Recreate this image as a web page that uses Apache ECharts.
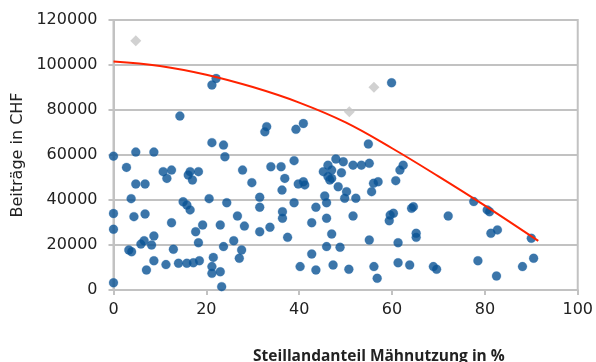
<!DOCTYPE html>
<html>
<head>
<meta charset="utf-8">
<script src="https://cdn.jsdelivr.net/npm/echarts@6/dist/echarts.min.js"></script>
<style>
  html, body { margin: 0; padding: 0; background: #fff; }
  #chart { width: 596px; height: 362px; }
</style>
</head>
<body>
<div id="chart"></div>
<script>
// Farm contributions (CHF) against share of steep mown land (%)
const farms = [
  [0, 59500], [0, 34000], [0, 27000], [0, 3200],
  [4.8, 61300], [8.7, 61300], [2.8, 54500], [10.7, 52600], [12.5, 53300], [11.5, 49600],
  [16.5, 52600], [18.3, 52600], [17, 48900], [16.1, 51100], [4.8, 47100], [6.8, 47100],
  [3.8, 40600], [15, 39200], [15.8, 37800], [16.5, 35600], [20.6, 40600], [4.4, 32600],
  [6.8, 33800], [12.5, 29900], [17.7, 25900], [19.2, 28900], [23, 28900], [8.7, 24000],
  [6.6, 21900], [5.9, 20400], [8.2, 20000], [3.3, 17800], [3.9, 17000], [12.9, 18100],
  [18.3, 21000], [23.7, 19300], [8.7, 13000], [7.1, 8900], [11.3, 11300], [14, 11900],
  [15.8, 11900], [17.2, 12100], [18.5, 13000], [21.5, 14500], [21.2, 10400], [21.2, 7400],
  [23, 8100], [23.3, 1500], [21.2, 65500], [23.7, 64400], [14.3, 77300], [24, 59200],
  [27.8, 53300], [29.8, 47700], [33.9, 54800], [24.4, 38800], [31.5, 41200], [31.5, 36800],
  [26.7, 32900], [28.2, 28400], [31.5, 25900], [33.7, 27900], [25.9, 21900], [27.6, 17800],
  [27.1, 14100], [21.2, 91100], [22.1, 94000],
  [33, 72600], [32.6, 70300], [40.9, 74000], [39.3, 71400],
  [36.1, 54800], [36.9, 49600], [36.3, 44400], [38.9, 57500], [39.8, 47100], [40.9, 48100],
  [41.2, 46700], [46.2, 55500], [47.9, 58200], [45.2, 52600], [46.2, 50400], [46.6, 48900],
  [48.4, 45900], [38.9, 38800], [36.4, 34800], [36.4, 31900], [43.6, 36800], [45.5, 41800],
  [45.9, 38800], [42.7, 29900], [45.9, 31900], [37.5, 23400], [47, 24900], [45.9, 19300],
  [42.7, 16000], [40.2, 10400], [43.6, 8900], [47.3, 11100],
  [49.5, 57000], [47, 53300], [47, 49600], [51.6, 55500], [53.4, 55500], [55.1, 56300],
  [62.4, 55500], [61.7, 53300], [49.1, 52100], [56, 47400], [57, 48100], [55.6, 43700],
  [60.8, 48600], [50.2, 43700], [49.8, 40800], [52.2, 40800], [51.6, 32900], [59.6, 33300],
  [60.3, 34100], [59.4, 30800], [64.2, 36300], [64.6, 37000], [72.1, 32900], [55.1, 22200],
  [61.3, 21000], [65.2, 25200], [65.2, 23400], [48.8, 19000], [50.7, 9200], [56.1, 10400],
  [56.8, 5200], [61.3, 12100], [63.8, 11100], [68.9, 10400], [69.6, 9200], [54.9, 64900],
  [77.6, 39300], [80.5, 35600], [81, 34800], [81.3, 25200], [82.7, 26700], [90, 23000],
  [90.5, 14100], [88.1, 10400], [78.5, 13000], [82.5, 6200], [59.9, 92100]
];

// Farms shown as outliers
const outliers = [[4.8, 110800], [50.8, 79200], [56.1, 90100]];

// Trend curve read at regular steps of the steep-land share
const trend = [
  [0, 101600], [10, 99600], [20, 95700], [30, 90200], [40, 83300],
  [50, 74500], [60, 63000], [70, 50500], [80, 37500], [91.5, 21800]
];

const xTicks = { min: 0, max: 100, interval: 20 };
const yTicks = { min: 0, max: 120000, interval: 20000 };

const gridColor = '#c2c2c2';
const labelFont = { color: '#222', fontSize: 16, fontFamily: '"DejaVu Sans", sans-serif' };

const chart = echarts.init(document.getElementById('chart'), null, { renderer: 'canvas' });
chart.setOption({
  animation: false,
  grid: {
    left: 113.5, right: 18, top: 20, bottom: 72,
    show: true, borderColor: gridColor, borderWidth: 2, backgroundColor: 'transparent'
  },
  xAxis: {
    type: 'value',
    min: xTicks.min, max: xTicks.max, interval: xTicks.interval,
    axisLine: { show: true, lineStyle: { color: gridColor, width: 2 } },
    axisTick: { show: true, length: 5, lineStyle: { color: gridColor, width: 2 } },
    splitLine: { show: false },
    axisLabel: Object.assign({ margin: 12 }, labelFont)
  },
  yAxis: {
    type: 'value',
    min: yTicks.min, max: yTicks.max, interval: yTicks.interval,
    name: 'Beiträge in CHF',
    nameLocation: 'middle',
    nameGap: 84,
    nameTextStyle: { color: '#222', fontSize: 16, fontFamily: '"DejaVu Sans", sans-serif' },
    axisLine: { show: true, lineStyle: { color: gridColor, width: 2 } },
    axisTick: { show: true, length: 5, lineStyle: { color: gridColor, width: 2 } },
    splitLine: { show: true, lineStyle: { color: gridColor, width: 2 } },
    axisLabel: Object.assign({ margin: 16, formatter: (v) => String(v) }, labelFont)
  },
  graphic: [{
    type: 'text',
    left: 253, top: 349,
    style: {
      text: 'Steillandanteil Mähnutzung in %',
      fill: '#222',
      font: 'bold 15.5px "Open Sans", sans-serif'
    }
  }],
  series: [
    {
      type: 'scatter',
      data: farms,
      symbol: 'circle',
      symbolSize: 9,
      itemStyle: {
        color: '#0a5294',
        borderColor: 'rgba(40,110,180,0.5)',
        borderWidth: 0.6
      },
      z: 3
    },
    {
      type: 'scatter',
      data: outliers,
      symbol: 'diamond',
      symbolSize: 11,
      itemStyle: { color: '#c6c6c6' },
      z: 2
    },
    {
      type: 'line',
      data: trend,
      smooth: 0.4,
      showSymbol: false,
      lineStyle: { color: '#ff2200', width: 2 },
      z: 5
    }
  ]
});
</script>
</body>
</html>
